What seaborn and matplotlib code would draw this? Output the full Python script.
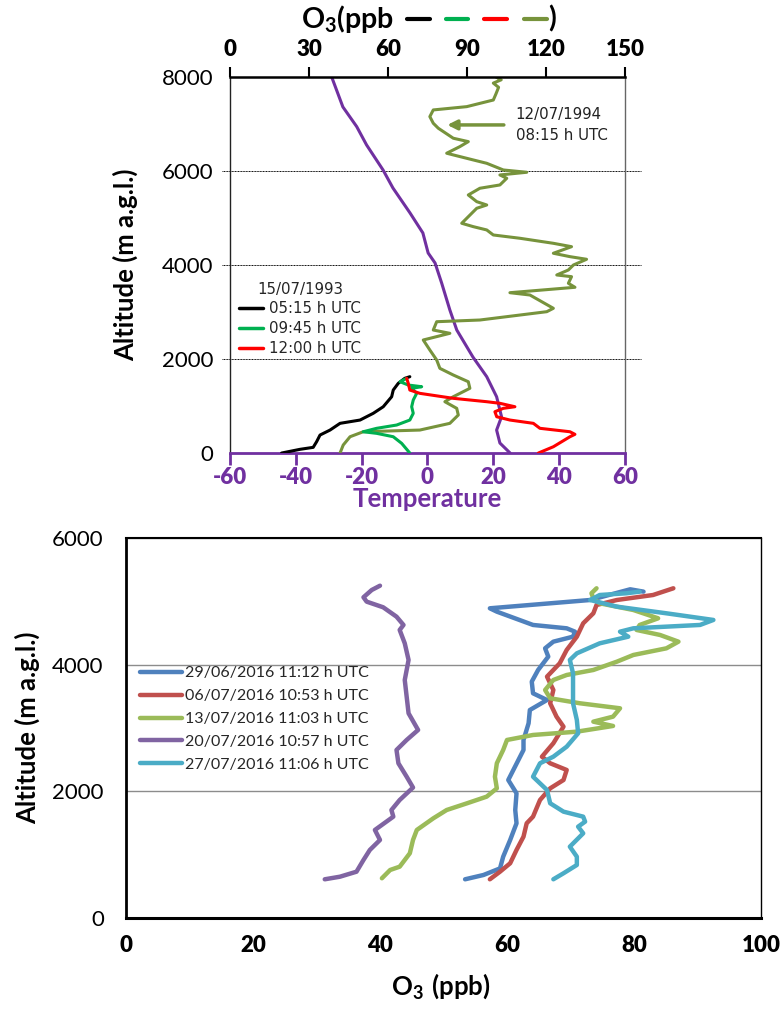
import numpy as np
import pandas as pd
import matplotlib
matplotlib.use("Agg")
import matplotlib.pyplot as plt
from matplotlib.lines import Line2D
import seaborn as sns

# ---------------- data: 1993/1994 soundings ----------------
temp_alt = [8000, 7363, 6944, 6554, 6022, 5639, 5107, 4682, 4256, 4043, 3618,
            3043, 2617, 2043, 1624, 1198, 772, 489, 213, 0]
temp_val = [-29.1, -25.7, -21.5, -18.5, -13.5, -10.5, -5.3, -1.4, 0.2, 2.3, 4.3,
            6.8, 8.9, 13.8, 18.0, 21.0, 22.5, 21.0, 22.0, 25.1]

o3_1994_val = [101, 103, 100, 102, 101, 100, 89.9, 77.2, 75.9, 77.2, 79.1, 84.8, 90.5,
               87.3, 82.3, 84.8, 92.4, 97.5, 103.8, 112.7, 102.5, 105.1, 102.5, 94.9,
               90.5, 93.7, 97.5, 93.7, 89.9, 88.0, 92.4, 97.5, 100.0, 110.1, 122.8,
               129.7, 122.8, 129.1, 135.4, 130.4, 128.5, 124.1, 129.7, 128.5, 131.0,
               106.3, 113.9, 122.8, 120.3, 94.9, 78.5, 77.2, 83.5, 73.4, 75.9, 78.5,
               79.7, 84.8, 90.5, 91.1, 84.8, 81.6, 86.1, 86.7, 83.5, 72.1, 50.6, 45.6,
               43.0, 41.8]
o3_1994_alt = [8000, 7940, 7870, 7780, 7640, 7510, 7369, 7299, 7157, 7016, 6910, 6697,
               6625, 6519, 6378, 6342, 6235, 6164, 6022, 5973, 5916, 5845, 5703, 5633,
               5490, 5348, 5277, 5207, 4994, 4888, 4816, 4746, 4639, 4569, 4462, 4390,
               4250, 4178, 4122, 4000, 3894, 3788, 3752, 3611, 3526, 3411, 3362, 3079,
               3007, 2830, 2794, 2617, 2547, 2405, 2192, 1979, 1802, 1660, 1517, 1377,
               1198, 1092, 951, 809, 632, 489, 453, 347, 170, 0]

o3_0515_val = [19.6, 26.6, 31.6, 32.9, 34.2, 38.0, 41.8, 49.4, 54.4, 58.2, 61.4, 62.0,
               63.9, 66.4, 68.3]
o3_0515_alt = [0, 79, 121, 241, 383, 489, 632, 702, 845, 985, 1198, 1340, 1483, 1590, 1624]

o3_0945_val = [68.3, 65.2, 62.0, 55.7, 50.6, 55.7, 63.3, 68.3, 69.6, 69.0, 69.6, 70.9,
               69.0, 72.8, 67.7, 64.6, 67.1]
o3_0945_alt = [0, 206, 347, 419, 453, 526, 596, 702, 845, 985, 1128, 1270, 1377, 1411,
               1447, 1517, 1590]

o3_1200_val = [117.1, 122.8, 129.1, 131.0, 129.1, 117.7, 115.2, 106.3, 101.3, 100.6,
               103.8, 108.2, 102.5, 97.5, 84.8, 72.1, 68.3, 67.7, 67.1]
o3_1200_alt = [0, 134, 347, 398, 453, 526, 632, 702, 772, 879, 951, 985, 1058, 1092,
               1164, 1270, 1340, 1483, 1590]

legend_1993 = ["05:15 h UTC", "09:45 h UTC", "12:00 h UTC"]

temp_ticks = [-60, -40, -20, 0, 20, 40, 60]
o3_top_ticks = [0, 30, 60, 90, 120, 150]
alt_top_ticks = [0, 2000, 4000, 6000, 8000]

# ---------------- data: 2016 soundings ----------------
labels_2016 = ["29/06/2016 11:12 h UTC", "06/07/2016 10:53 h UTC",
               "13/07/2016 11:03 h UTC", "20/07/2016 10:57 h UTC",
               "27/07/2016 11:06 h UTC"]

o3_0629 = [81.5, 79.4, 73.1, 57.3, 58.4, 64.1, 69.4, 70.7, 70.4, 67.3, 66.0, 66.5, 64.9,
           63.9, 64.1, 66.3, 63.6, 63.4, 62.6, 62.6, 61.0, 60.2, 61.5, 61.3, 61.5, 60.5,
           59.4, 58.9, 56.3, 53.4]
alt_0629 = [5153, 5190, 5021, 4890, 4837, 4627, 4574, 4521, 4442, 4363, 4258, 4127, 3916,
            3732, 3548, 3442, 3284, 3074, 2811, 2653, 2337, 2179, 1969, 1705, 1495, 1232,
            968, 783, 679, 611]

o3_0607 = [86.2, 83.0, 77.3, 74.1, 73.6, 72.0, 71.0, 69.4, 68.3, 66.3, 67.3, 66.8, 67.8,
           68.9, 67.3, 65.5, 66.8, 69.4, 68.9, 66.8, 65.2, 64.1, 63.1, 62.6, 61.5, 60.5,
           58.9, 57.3]
alt_0607 = [5206, 5100, 5021, 4942, 4811, 4653, 4442, 4232, 4021, 3811, 3600, 3390, 3179,
            3021, 2759, 2547, 2443, 2337, 2179, 2047, 1863, 1600, 1495, 1284, 1074, 864,
            731, 611]

o3_1307 = [74.1, 73.3, 73.6, 74.6, 79.9, 83.8, 80.9, 80.4, 84.1, 87.0, 85.1, 79.9, 77.3,
           73.6, 69.4, 67.3, 66.0, 66.8, 71.5, 77.8, 76.7, 73.6, 76.7, 71.0, 64.1, 60.0,
           59.4, 58.4, 58.1, 58.4, 56.8, 53.7, 50.5, 48.4, 45.8, 45.2, 44.7, 43.1, 41.6,
           40.3]
alt_1307 = [5206, 5127, 5048, 4969, 4863, 4732, 4627, 4548, 4469, 4363, 4258, 4153, 4047,
            3916, 3837, 3758, 3600, 3469, 3390, 3311, 3179, 3100, 3032, 2942, 2890, 2811,
            2653, 2443, 2231, 2047, 1916, 1811, 1705, 1574, 1390, 1232, 1022, 810, 758,
            627]

o3_2007 = [40.0, 38.7, 37.4, 37.9, 40.5, 42.6, 43.7, 43.1, 43.9, 44.5, 43.9, 44.2, 44.5,
           46.0, 44.2, 42.6, 42.9, 44.2, 45.2, 43.1, 41.8, 42.1, 39.2, 40.0, 38.4, 37.4,
           36.3, 33.7, 31.3]
alt_2007 = [5247, 5179, 5064, 4995, 4906, 4758, 4627, 4548, 4337, 4074, 3758, 3494, 3232,
            2969, 2811, 2653, 2443, 2231, 2060, 1863, 1705, 1600, 1390, 1232, 1074, 916,
            731, 652, 611]

o3_2707 = [80.9, 78.8, 74.6, 73.1, 77.3, 85.1, 92.5, 90.4, 79.9, 77.8, 79.1, 74.6, 71.0,
           69.9, 70.4, 70.4, 70.4, 71.0, 71.2, 69.4, 67.3, 65.2, 64.1, 66.3, 66.8, 68.9,
           72.0, 72.3, 71.2, 72.0, 69.9, 71.0, 71.0, 68.9, 67.3]
alt_2707 = [5153, 5127, 5100, 5021, 4916, 4811, 4706, 4627, 4574, 4521, 4442, 4337, 4179,
            4074, 3864, 3600, 3390, 3127, 2916, 2705, 2547, 2443, 2231, 2021, 1811, 1679,
            1600, 1521, 1442, 1337, 1126, 968, 837, 706, 611]

o3_bottom_ticks = [0, 20, 40, 60, 80, 100]
alt_bottom_ticks = [0, 2000, 4000, 6000]

# ---------------- styling ----------------
sns.set_theme(style="white")
plt.rcParams['font.family'] = ['Lato', 'DejaVu Sans']
plt.rcParams['mathtext.fontset'] = 'custom'
plt.rcParams['mathtext.rm'] = 'Lato'
plt.rcParams['mathtext.bf'] = 'Lato:bold'
plt.rcParams['axes.unicode_minus'] = False

PURPLE = "#7030A0"
OLIVE = "#77933C"
GREEN = "#00B050"
RED = "#FF0000"
pal_2016 = ["#4F81BD", "#C0504D", "#9BBB59", "#8064A2", "#4BACC6"]
TICK_FS = 16
LABEL_FS = 18.5
SMALL = {'family': 'DejaVu Sans', 'size': 10.8}
HEAVY = 'heavy'

fig = plt.figure(figsize=(7.83, 10.09), dpi=100)

# ================= upper panel =================
ax = fig.add_axes([0.2937, 0.551, 0.5045, 0.3727])
sns.lineplot(x=temp_val, y=temp_alt, sort=False, estimator=None, color=PURPLE,
             linewidth=2.2, ax=ax)
ax.set_xlim(-60, 60)
ax.set_ylim(0, 8000)
ax.tick_params(axis='x', colors=PURPLE, labelsize=TICK_FS, length=8.5, width=2,
               direction='out', pad=1.5)
ax.tick_params(axis='y', labelsize=TICK_FS, length=7, width=1, direction='out', pad=5,
               colors='black')
ax.set_xticks(temp_ticks, labels=[str(t) for t in temp_ticks], fontweight=HEAVY)
ax.set_yticks(alt_top_ticks, labels=[str(t) for t in alt_top_ticks])
ax.set_xlabel("Temperature", color=PURPLE, fontsize=LABEL_FS, fontweight='bold')
ax.xaxis.set_label_coords(0.5, -0.09)
ax.set_ylabel("Altitude (m a.g.l.)", fontsize=LABEL_FS, fontweight='bold', color='black')
ax.yaxis.set_label_coords(-0.232, 0.5)
ax.spines['bottom'].set_color(PURPLE)
ax.spines['bottom'].set_linewidth(2)
ax.spines['left'].set_color('#222222')
ax.spines['left'].set_linewidth(1)
ax.spines['right'].set_color('#666666')
ax.spines['right'].set_linewidth(1)
ax.spines['top'].set_visible(False)
for v in alt_top_ticks[1:-1]:
    ax.plot([-0.02, 1.04], [v, v], transform=ax.get_yaxis_transform(), color='black',
            linewidth=0.7, linestyle=(0, (1, 0.6)), clip_on=False, zorder=0)

ax2 = ax.twiny()
sns.lineplot(x=o3_1994_val, y=o3_1994_alt, sort=False, estimator=None, color=OLIVE,
             linewidth=2.2, ax=ax2)
sns.lineplot(x=o3_0515_val, y=o3_0515_alt, sort=False, estimator=None, color='black',
             linewidth=2.2, ax=ax2, label=legend_1993[0])
sns.lineplot(x=o3_0945_val, y=o3_0945_alt, sort=False, estimator=None, color=GREEN,
             linewidth=2.2, ax=ax2, label=legend_1993[1])
sns.lineplot(x=o3_1200_val, y=o3_1200_alt, sort=False, estimator=None, color=RED,
             linewidth=2.2, ax=ax2, label=legend_1993[2])
ax2.set_xlim(0, 150)
ax2.set_ylim(0, 8000)
ax2.tick_params(axis='x', labelsize=TICK_FS, length=7, width=1.5, direction='out', pad=5,
                colors='black')
ax2.set_xticks(o3_top_ticks, labels=[str(t) for t in o3_top_ticks], fontweight=HEAVY)
for s in ['bottom', 'left', 'right']:
    ax2.spines[s].set_visible(False)
ax2.spines['top'].set_color('black')
ax2.spines['top'].set_linewidth(1.8)
ax2.set_xlabel("")
ax2.set_ylabel("")

leg = ax2.legend(title="15/07/1993", loc='upper left', bbox_to_anchor=(0.0, 0.48),
                 frameon=False, prop=SMALL, title_fontproperties=SMALL,
                 handlelength=1.6, handletextpad=0.4, labelspacing=0.33,
                 borderaxespad=0.2)
for h in leg.legend_handles:
    h.set_linewidth(2.5)

ax2.annotate("", xy=(82.5, 6980), xytext=(104, 6980),
             arrowprops=dict(arrowstyle='-|>', color=OLIVE, lw=2.5,
                             mutation_scale=14, shrinkA=0, shrinkB=0))
ax2.text(108.5, 6980, "12/07/1994\n08:15 h UTC", fontproperties=SMALL,
         color='#222222', va='center', ha='left', linespacing=1.5)

# header: O3(ppb  — — — — )
fig.text(0.385, 0.981, r"$\mathbf{O_3(ppb}$", fontsize=20.5,
         ha='left', va='center', color='black')
for x0, c in zip([0.520, 0.569, 0.618, 0.669], ['black', GREEN, RED, OLIVE]):
    fig.add_artist(Line2D([x0, x0 + 0.029], [0.981, 0.981], transform=fig.transFigure,
                          color=c, linewidth=3))
fig.text(0.700, 0.981, ")", fontsize=20.5, fontweight='bold', ha='left', va='center',
         color='black')

# ================= lower panel =================
ax3 = fig.add_axes([0.1609, 0.0902, 0.811, 0.3766])
rows = []
for lab, xs, ys in zip(labels_2016,
                       [o3_0629, o3_0607, o3_1307, o3_2007, o3_2707],
                       [alt_0629, alt_0607, alt_1307, alt_2007, alt_2707]):
    for xv, yv in zip(xs, ys):
        rows.append({"date": lab, "o3": xv, "alt": yv})
df = pd.DataFrame(rows)
sns.lineplot(data=df, x="o3", y="alt", hue="date", hue_order=labels_2016,
             palette=pal_2016, sort=False, estimator=None, units="date",
             linewidth=3.2, ax=ax3)
ax3.set_xlim(0, 100)
ax3.set_ylim(0, 6000)
ax3.tick_params(axis='x', labelsize=TICK_FS, length=7, width=1.5, direction='out', pad=5,
                colors='black')
ax3.tick_params(axis='y', labelsize=TICK_FS, length=7, width=1, direction='out', pad=9,
                colors='black')
ax3.set_xticks(o3_bottom_ticks, labels=[str(t) for t in o3_bottom_ticks],
               fontweight=HEAVY)
ax3.set_yticks(alt_bottom_ticks, labels=[str(t) for t in alt_bottom_ticks])
ax3.yaxis.grid(True, color='#8c8c8c', linewidth=1)
ax3.xaxis.grid(False)
ax3.set_axisbelow(True)
ax3.set_xlabel(r"$\mathbf{O_3\ (ppb)}$", fontsize=LABEL_FS, color='black')
ax3.xaxis.set_label_coords(0.495, -0.14)
ax3.set_ylabel("Altitude (m a.g.l.)", fontsize=LABEL_FS, fontweight='bold', color='black')
ax3.yaxis.set_label_coords(-0.135, 0.5)
ax3.spines['bottom'].set_linewidth(2.2)
ax3.spines['left'].set_linewidth(2.0)
ax3.spines['top'].set_linewidth(1.5)
ax3.spines['right'].set_linewidth(1.0)
for s in ax3.spines.values():
    s.set_color('black')

leg3 = ax3.legend(loc='upper left', bbox_to_anchor=(0.012, 0.68), frameon=False,
                  fontsize=11.5, handlelength=2.6, handletextpad=0.2,
                  labelspacing=0.55, borderaxespad=0.0)
for h in leg3.legend_handles:
    h.set_linewidth(3.2)

fig.savefig("out.png", dpi=100)
